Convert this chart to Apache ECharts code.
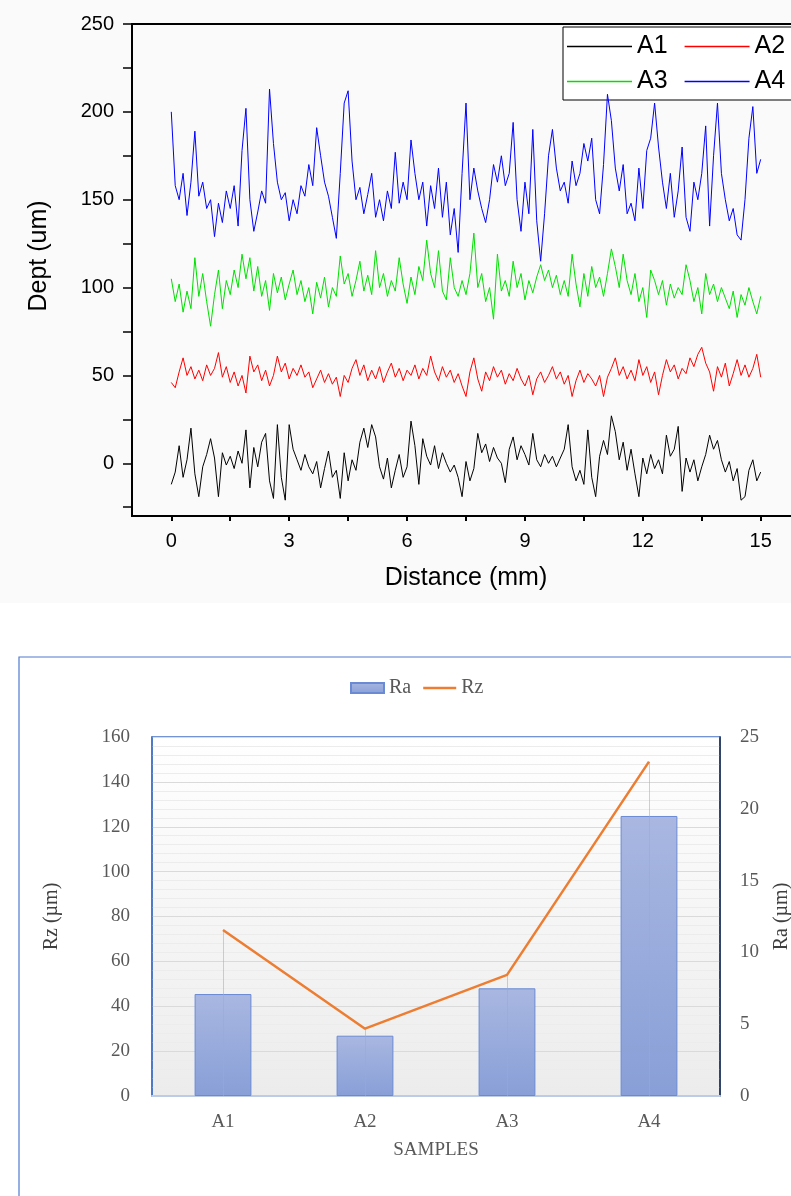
<!DOCTYPE html>
<html><head><meta charset="utf-8">
<script src="https://cdn.jsdelivr.net/npm/echarts@6/dist/echarts.min.js"></script>
<style>html,body{margin:0;padding:0;background:#fff}#c{width:791px;height:1196px}</style>
</head><body><div id="c"></div>
<script>
// ---------- Top chart: surface profiles (Distance step 0.1 mm, 0..15) ----------
const profileStep = 0.1;
const profileA1 = [-12,-5,10,-8,2,20,-6,-19,-2,5,14,3,-19,6,-1,4,-3,7,0,19,-14,9,-2,12,17,-10,-20,22,-8,-21,
  22,8,2,-4,5,-2,-6,1,-14,-3,7,-8,-4,-20,6,-10,2,-4,12,20,9,22,15,-2,-9,3,-14,-4,5,-8,
  -2,24,10,-12,14,4,-1,10,-3,6,0,-5,-1,-8,-19,1,-10,-3,17,6,11,1,9,3,0,-11,8,15,2,10,
  5,-1,17,2,-2,5,0,4,-2,3,8,22,-2,-10,-4,-12,19,-8,-19,4,13,5,27,18,2,12,-4,8,-6,-19,
  3,-6,5,-3,2,-6,16,4,8,21,-16,3,-5,2,-10,-2,5,16,8,13,2,-5,1,-10,-3,-21,-19,-4,2,-10,-5];
const profileA2 = [46,43,52,60,50,55,48,53,47,56,50,54,63,49,55,46,52,44,50,40,61,52,56,47,53,44,50,61,52,57,
  48,54,50,56,49,52,43,48,53,46,51,45,49,38,50,46,54,59,50,56,47,53,48,55,46,52,57,49,54,47,
  53,50,56,48,54,50,61,52,47,55,49,53,46,51,44,38,52,60,48,41,52,47,55,49,53,45,51,47,54,48,
  44,50,39,48,52,46,50,55,48,52,45,50,38,47,53,46,51,48,44,50,38,49,54,60,50,55,48,53,47,59,
  50,55,46,52,39,50,59,52,56,48,54,51,60,55,62,66,57,52,41,55,49,57,44,51,59,50,56,49,54,62,49];
const profileA3 = [105,92,102,86,98,88,117,95,108,92,78,96,110,88,104,96,110,100,119,105,117,98,112,95,104,87,108,97,106,93,
  102,110,96,104,92,100,85,103,94,106,89,100,95,118,102,108,95,104,115,98,107,96,121,100,108,95,104,98,117,102,
  91,106,96,112,104,127,108,100,121,98,93,117,100,95,104,96,108,131,100,108,92,100,82,119,98,104,95,115,100,108,
  93,104,97,106,113,104,110,100,107,96,104,95,119,102,89,108,95,112,100,106,95,108,122,112,100,119,104,96,108,92,
  100,83,110,104,96,104,90,102,94,100,96,113,104,92,100,85,108,96,102,92,100,94,88,98,83,96,90,100,92,85,95];
const profileA4 = [200,158,150,165,141,160,189,152,160,145,150,129,148,137,155,145,158,135,178,202,150,132,143,155,148,213,182,160,150,154,
  138,150,142,158,152,170,158,191,175,160,152,140,128,165,205,212,172,150,157,142,153,165,140,150,138,155,145,177,148,160,
  150,184,165,150,160,135,158,145,168,140,160,130,145,120,165,205,150,168,155,145,137,150,170,160,175,158,165,194,150,132,
  160,142,190,138,115,142,175,190,168,155,160,148,172,158,165,182,172,185,150,142,170,210,195,168,155,170,142,148,138,168,
  145,178,185,205,180,160,145,165,140,155,180,140,132,160,150,165,192,135,175,205,165,150,138,145,130,127,150,185,203,165,173];
const profileNames = ['A1','A2','A3','A4'];
const profileColors = ['#000000','#ff0000','#00e000','#0000ff'];
const xLabelValues = [0,3,6,9,12,15];
const xTickValues = [0,1.5,3,4.5,6,7.5,9,10.5,12,13.5,15];
const yLabelValues = [0,50,100,150,200,250];
const yTickValues = [-25,0,25,50,75,100,125,150,175,200,225,250];

// ---------- Bottom chart: roughness ----------
const samples = ['A1','A2','A3','A4'];
const raValues = [7.1,4.2,7.5,19.5];
const rzValues = [74,30,54,149];

const toXY = arr => arr.map((v,i) => [Math.round(i*profileStep*100)/100, v]);
const profiles = [profileA1, profileA2, profileA3, profileA4];

const sans = 'Liberation Sans, Arial, sans-serif';
const serif = 'Liberation Serif, Times New Roman, serif';
const grayText = '#595959';

const chart = echarts.init(document.getElementById('c'), null, {renderer:'canvas'});

const profileSeries = profiles.map((p,i) => ({
  name: profileNames[i], type:'line', xAxisIndex:0, yAxisIndex:0,
  data: toXY(p), showSymbol:false, symbol:'none',
  lineStyle:{width:1, color:profileColors[i]}, itemStyle:{color:profileColors[i]},
  animation:false, z: 2+i
}));

chart.setOption({
  backgroundColor:'#ffffff',
  animation:false,
  graphic:[
    {type:'rect', z:-10, silent:true, shape:{x:0,y:0,width:791,height:603}, style:{fill:'#fafafa'}},
    {type:'rect', z:-9, silent:true, shape:{x:19,y:657,width:820,height:600}, style:{fill:'#ffffff', stroke:'#4f7bd0', lineWidth:1.2}}
  ],
  grid:[
    {left:132, top:24, width:668, height:492, show:true, borderColor:'#000', borderWidth:2, backgroundColor:'transparent',
     containLabel:false, outerBoundsMode:'none'},
    {left:152, top:737, width:568, height:359, show:true, borderColor:'#4472c4', borderWidth:1.5, outerBoundsMode:'none',
     backgroundColor:{type:'linear',x:0,y:0,x2:0,y2:1,colorStops:[{offset:0,color:'#ffffff'},{offset:1,color:'#ececec'}]}}
  ],
  legend:[
    {data:profileNames, left:563, top:27, width:230, orient:'horizontal',
     icon:'rect', itemWidth:65, itemHeight:1.5, itemGap:10,
     padding:[7,30,6,4], borderColor:'#000', borderWidth:1, backgroundColor:'#ffffff',
     textStyle:{fontFamily:sans, fontSize:25, color:'#000', lineHeight:23, padding:[0,7,0,0]}},
    {data:[{name:'Ra', icon:'rect'}, {name:'Rz', icon:'path://M0,0H100V8H0Z'}], left:345, top:673, itemWidth:33, itemHeight:10, itemGap:12,
     textStyle:{fontFamily:serif, fontSize:20, color:grayText}}
  ],
  xAxis:[
    {type:'value', gridIndex:0, min:-1, max:16,
     axisLine:{show:true, onZero:false, lineStyle:{color:'#000', width:2}},
     axisTick:{show:true, customValues:xTickValues, length:5, inside:false, lineStyle:{color:'#000', width:2}},
     axisLabel:{customValues:xLabelValues, fontFamily:sans, fontSize:20, color:'#000', margin:15},
     splitLine:{show:false},
     name:'Distance (mm)', nameLocation:'middle', nameGap:50,
     nameTextStyle:{fontFamily:sans, fontSize:25, color:'#000'}},
    {type:'category', gridIndex:1, data:samples,
     axisLine:{show:true, lineStyle:{color:'#bccbe6', width:2}},
     axisTick:{show:false},
     axisLabel:{fontFamily:serif, fontSize:19, color:grayText, margin:17},
     splitLine:{show:false},
     name:'SAMPLES', nameLocation:'middle', nameGap:45,
     nameTextStyle:{fontFamily:serif, fontSize:19, color:grayText}}
  ],
  yAxis:[
    {type:'value', gridIndex:0, min:-30, max:250,
     axisLine:{show:true, onZero:false, lineStyle:{color:'#000', width:2}},
     axisTick:{show:true, customValues:yTickValues, length:9, lineStyle:{color:'#000', width:1.5}},
     axisLabel:{customValues:yLabelValues, fontFamily:sans, fontSize:20, color:'#000', margin:18},
     splitLine:{show:false},
     name:'Dept (um)', nameLocation:'middle', nameGap:80, nameRotate:90,
     nameTextStyle:{fontFamily:sans, fontSize:25, color:'#000', padding:[0,0,0,28]}},
    {type:'value', gridIndex:1, position:'left', min:0, max:160, interval:20,
     axisLine:{show:true, lineStyle:{color:'#4472c4', width:1.5}},
     axisTick:{show:false},
     axisLabel:{fontFamily:serif, fontSize:19, color:grayText, margin:22},
     splitLine:{show:true, lineStyle:{color:'#dadada', width:1}},
     minorTick:{show:false, splitNumber:5},
     minorSplitLine:{show:true, lineStyle:{color:'#ececec', width:1}},
     name:'Rz (µm)', nameLocation:'middle', nameGap:90, nameRotate:90,
     nameTextStyle:{fontFamily:serif, fontSize:20, color:'#404040'}},
    {type:'value', gridIndex:1, position:'right', min:0, max:25, interval:5,
     axisLine:{show:true, lineStyle:{color:'#1c2a48', width:1.5}},
     axisTick:{show:false},
     axisLabel:{fontFamily:serif, fontSize:19, color:grayText, margin:20},
     splitLine:{show:false},
     name:'Ra (µm)', nameLocation:'middle', nameGap:52, nameRotate:90,
     nameTextStyle:{fontFamily:serif, fontSize:20, color:'#404040'}}
  ],
  series:[
    ...profileSeries,
    {name:'Ra', type:'bar', xAxisIndex:1, yAxisIndex:2, data:raValues, barWidth:'40%',
     itemStyle:{color:{type:'linear',x:0,y:0,x2:0,y2:1,colorStops:[{offset:0,color:'#a9b7e1'},{offset:1,color:'#889fd7'}]},
       borderColor:'#6a8ad3', borderWidth:1}},
    {name:'Rz', type:'line', xAxisIndex:1, yAxisIndex:1, data:rzValues, symbol:'none', showSymbol:false,
     lineStyle:{color:'#ed7d31', width:2.5}, itemStyle:{color:'#ed7d31'}, z:5,
     markLine:{silent:true, symbol:'none', label:{show:false},
       lineStyle:{color:'rgba(170,170,170,0.55)', width:1, type:'solid'},
       data: samples.map((s,i) => [{xAxis:s, yAxis:rzValues[i]}, {xAxis:s, yAxis:0}])}}
  ]
});
</script></body></html>
